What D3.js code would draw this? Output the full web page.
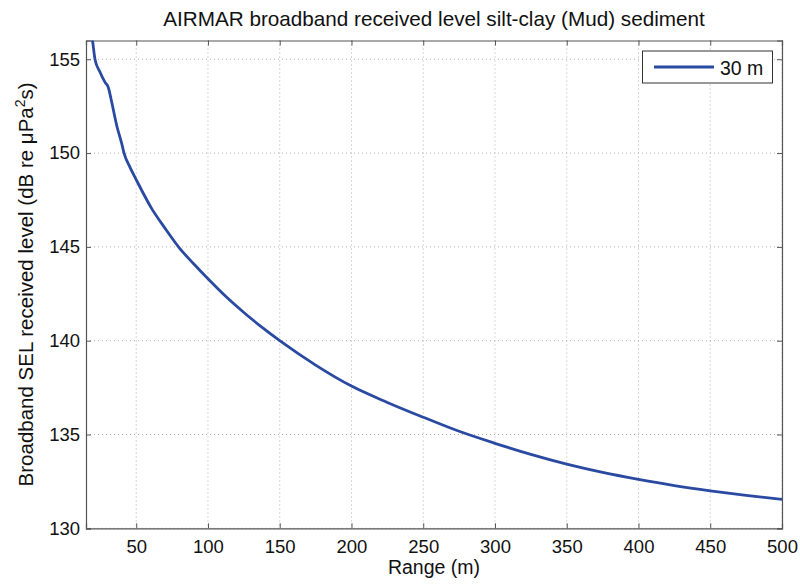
<!DOCTYPE html>
<html>
<head>
<meta charset="utf-8">
<script src="https://cdn.jsdelivr.net/npm/d3@7"></script>
<style>
  body { margin: 0; background: #fff; }
  svg { font-family: "Liberation Sans", Arial, Helvetica, sans-serif; }
</style>
</head>
<body>
<svg id="chart" width="800" height="587"></svg>
<script>
const title = "AIRMAR broadband received level silt-clay (Mud) sediment";
const xLabel = "Range (m)";
const seriesName = "30 m";
const xTicks = [50, 100, 150, 200, 250, 300, 350, 400, 450, 500];
const yTicks = [130, 135, 140, 145, 150, 155];
const rangeM = [17, 19.7, 21.3, 24.8, 28.2, 30.5, 32.9, 36.4, 39.9, 41.5, 45.6, 49.6, 60.8, 70, 80, 90, 100, 112.5, 125, 137.5, 150, 175, 200, 225, 250, 275, 300, 325, 350, 375, 400, 425, 450, 475, 500];
const levelDb = [157.4, 155.91, 154.99, 154.31, 153.78, 153.51, 152.72, 151.47, 150.5, 150.0, 149.25, 148.64, 147.04, 146.0, 144.95, 144.1, 143.3, 142.35, 141.5, 140.72, 140.0, 138.7, 137.58, 136.71, 135.92, 135.17, 134.53, 133.94, 133.42, 132.98, 132.61, 132.28, 132.0, 131.755, 131.54];

const svg = d3.select("#chart");
const L = 86, R = 782, T = 40.5, B = 528.3;
const x = d3.scaleLinear().domain([15, 500]).range([L, R]);
const y = d3.scaleLinear().domain([130, 156]).range([B, T]);

svg.append("clipPath").attr("id", "clip").append("rect")
  .attr("x", L).attr("y", T).attr("width", R - L).attr("height", B - T);

// grid
const grid = svg.append("g");
xTicks.forEach(t => {
  grid.append("line").attr("x1", x(t)).attr("x2", x(t)).attr("y1", T).attr("y2", B)
    .attr("stroke", "#b0b0b0").attr("stroke-width", 1).attr("stroke-dasharray", "1,3");
});
yTicks.forEach(t => {
  grid.append("line").attr("x1", L).attr("x2", R).attr("y1", y(t)).attr("y2", y(t))
    .attr("stroke", "#b0b0b0").attr("stroke-width", 1).attr("stroke-dasharray", "1,3");
});

// axes
const axisColor = "#555";
const xAxis = svg.append("g").attr("transform", `translate(0,${B})`)
  .call(d3.axisBottom(x).tickValues(xTicks).tickSize(-5).tickPadding(11.5).tickFormat(d3.format("d")));
const xAxisTop = svg.append("g").attr("transform", `translate(0,${T})`)
  .call(d3.axisTop(x).tickValues(xTicks).tickSize(-5).tickFormat(""));
const yAxis = svg.append("g").attr("transform", `translate(${L},0)`)
  .call(d3.axisLeft(y).tickValues(yTicks).tickSize(-5).tickPadding(6).tickFormat(d3.format("d")));
const yAxisRight = svg.append("g").attr("transform", `translate(${R},0)`)
  .call(d3.axisRight(y).tickValues(yTicks).tickSize(-5).tickFormat(""));
[xAxis, xAxisTop, yAxis, yAxisRight].forEach(g => {
  g.select(".domain").attr("stroke", axisColor).attr("stroke-width", 1.2);
  g.selectAll(".tick line").attr("stroke", axisColor).attr("stroke-width", 1);
  g.selectAll(".tick text").attr("font-size", 18.5).attr("fill", "#111")
    .attr("font-family", "Liberation Sans, Arial, sans-serif");
});

// line
const line = d3.line().x((d, i) => x(rangeM[i])).y(d => y(d)).curve(d3.curveMonotoneX);
svg.append("path").datum(levelDb).attr("clip-path", "url(#clip)")
  .attr("d", line).attr("fill", "none").attr("stroke", "#2a4aa2").attr("stroke-width", 2.8);

// title
svg.append("text").attr("x", (L + R) / 2).attr("y", 26).attr("text-anchor", "middle")
  .attr("font-size", 20.7).attr("fill", "#111").text(title);

// x label
svg.append("text").attr("x", (L + R) / 2).attr("y", 574).attr("text-anchor", "middle")
  .attr("font-size", 19.5).attr("fill", "#111").text(xLabel);

// y label
const yl = svg.append("text").attr("transform", `translate(33,${(T + B) / 2}) rotate(-90)`)
  .attr("text-anchor", "middle").attr("font-size", 20.5).attr("fill", "#111");
yl.append("tspan").text("Broadband SEL received level (dB re \u03bcPa");
yl.append("tspan").attr("font-size", 14).attr("dy", -8).text("2");
yl.append("tspan").attr("dy", 8).text("s)");

// legend
const lg = svg.append("g");
lg.append("rect").attr("x", 642.5).attr("y", 51).attr("width", 130).attr("height", 32)
  .attr("fill", "#fff").attr("stroke", "#333").attr("stroke-width", 1);
lg.append("line").attr("x1", 654).attr("x2", 714).attr("y1", 67).attr("y2", 67)
  .attr("stroke", "#2a4aa2").attr("stroke-width", 2.8);
lg.append("text").attr("x", 720).attr("y", 75).attr("font-size", 19.5).attr("fill", "#111").text(seriesName);
</script>
</body>
</html>
